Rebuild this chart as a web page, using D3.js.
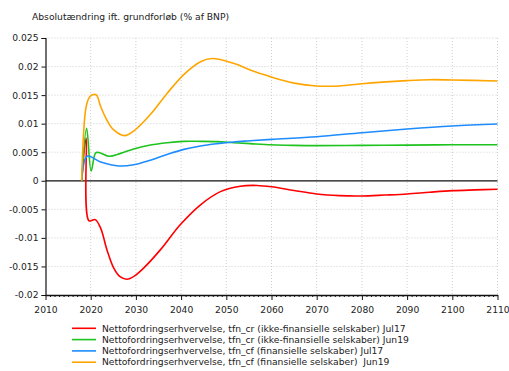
<!DOCTYPE html>
<html>
<head>
<meta charset="utf-8">
<script src="https://cdn.jsdelivr.net/npm/d3@7"></script>
<style>
  html, body { margin: 0; padding: 0; background: #fff; }
  svg { display: block; }
  text { font-family: "DejaVu Sans", Verdana, sans-serif; fill: #222; }
</style>
</head>
<body>
<svg id="chart" width="509" height="371"></svg>
<script>
// Net lending (tfn) change relative to baseline, % of GDP
const titleText = "Absolutændring ift. grundforløb (% af BNP)";

const xTicks = [2010, 2020, 2030, 2040, 2050, 2060, 2070, 2080, 2090, 2100, 2110];
const yTicks = [-0.02, -0.015, -0.01, -0.005, 0, 0.005, 0.01, 0.015, 0.02, 0.025];
const yTickLabels = ["-0.02", "-0.015", "-0.01", "-0.005", "0", "0.005", "0.01", "0.015", "0.02", "0.025"];

// [year, value]
const crJul17 = [
  [2018, 0], [2019, 0.0075], [2019.6, -0.0070], [2021, -0.0068], [2022.2, -0.0083],
  [2023.6, -0.0121], [2025.1, -0.0153], [2026.5, -0.0168], [2028, -0.01725],
  [2029.8, -0.0166], [2031.7, -0.0153], [2035.4, -0.0121], [2039.8, -0.0077],
  [2044.3, -0.0042], [2048.7, -0.0019], [2053.1, -0.00095], [2056.8, -0.00082],
  [2060, -0.00105], [2065, -0.0017], [2070, -0.00231], [2075, -0.0026],
  [2080, -0.00266], [2085, -0.0025], [2090, -0.00231], [2095, -0.002],
  [2100, -0.00173], [2105, -0.0016], [2110, -0.00149]
];

const crJun19 = [
  [2018, 0], [2019.1, 0.0092], [2020.1, 0.0017], [2021.1, 0.0049], [2022, 0.0049],
  [2024, 0.0043], [2026.6, 0.0048], [2029.5, 0.00557], [2033.2, 0.00627],
  [2036.9, 0.00667], [2040.6, 0.0069], [2044.3, 0.0069], [2048, 0.00685],
  [2051.6, 0.00667], [2055.3, 0.0065], [2060, 0.0063], [2065, 0.0062],
  [2070, 0.00615], [2080, 0.0062], [2090, 0.00625], [2100, 0.0063], [2110, 0.0063]
];

const cfJul17 = [
  [2018, 0], [2019.2, 0.0043], [2022.2, 0.0033], [2026.2, 0.0026], [2029.5, 0.0028],
  [2033.2, 0.0036], [2036.9, 0.0046], [2040.6, 0.0055], [2044.3, 0.0061],
  [2048, 0.0065], [2051.6, 0.0068], [2055.3, 0.0070], [2060, 0.00725],
  [2070, 0.00772], [2080, 0.00842], [2090, 0.00907], [2100, 0.0096], [2110, 0.00994]
];

const cfJun19 = [
  [2018, 0], [2019, 0.0130], [2019.8, 0.0147], [2020.6, 0.0151], [2021.3, 0.0150],
  [2022.2, 0.0130], [2023.6, 0.0106], [2025.1, 0.0089], [2027.5, 0.0079],
  [2029.5, 0.0087], [2033.2, 0.0116], [2036.9, 0.0153],
  [2040.6, 0.0186], [2044.3, 0.02085], [2046.8, 0.0214], [2051.6, 0.02057],
  [2055.3, 0.0194], [2057.5, 0.0188], [2060, 0.01815], [2065, 0.0171], [2070, 0.0166],
  [2075, 0.0166], [2080, 0.0170], [2090, 0.01753], [2095, 0.0177], [2100, 0.01765],
  [2110, 0.01747]
];

const seriesNames = [
  "Nettofordringserhvervelse, tfn_cr (ikke-finansielle selskaber) Jul17",
  "Nettofordringserhvervelse, tfn_cr (ikke-finansielle selskaber) Jun19",
  "Nettofordringserhvervelse, tfn_cf (finansielle selskaber) Jul17",
  "Nettofordringserhvervelse, tfn_cf (finansielle selskaber)  Jun19"
];
const seriesData = [crJul17, crJun19, cfJul17, cfJun19];
const seriesColors = ["#ff0000", "#1ec31e", "#1e8cff", "#ffa500"];

const svg = d3.select("#chart");
const fontSize = 9.2;

const x = d3.scaleLinear().domain([2010, 2110]).range([45.5, 497.5]);
const y = d3.scaleLinear().domain([-0.02, 0.025]).range([295, 38]);

// title
svg.append("text")
  .attr("x", 32).attr("y", 20)
  .style("font-size", fontSize + "px")
  .text(titleText);

// grid
const grid = svg.append("g");
grid.selectAll("line.h").data(yTicks.filter(d => d !== -0.02 && d !== 0)).join("line")
  .attr("x1", x(2010)).attr("x2", x(2110))
  .attr("y1", d => y(d)).attr("y2", d => y(d))
  .attr("stroke", "#cfcfcf").attr("stroke-width", 1)
  .attr("stroke-dasharray", "1,2");
grid.selectAll("line.v").data(xTicks.filter(d => d !== 2010)).join("line")
  .attr("x1", d => x(d)).attr("x2", d => x(d))
  .attr("y1", y(0.025)).attr("y2", y(-0.02))
  .attr("stroke", "#cfcfcf").attr("stroke-width", 1)
  .attr("stroke-dasharray", "1,2");

// zero line
svg.append("line")
  .attr("x1", x(2010)).attr("x2", x(2110))
  .attr("y1", y(0)).attr("y2", y(0))
  .attr("stroke", "#111").attr("stroke-width", 1.2);

// series
const line = d3.line()
  .x(d => x(d[0]))
  .y(d => y(d[1]))
  .curve(d3.curveCatmullRom.alpha(0.5));

svg.append("g").selectAll("path").data(seriesData).join("path")
  .attr("d", d => line(d))
  .attr("fill", "none")
  .attr("stroke", (d, i) => seriesColors[i])
  .attr("stroke-width", 1.6)
  .attr("stroke-linejoin", "round");

// y axis
const yAxis = d3.axisLeft(y)
  .tickValues(yTicks)
  .tickFormat((d, i) => yTickLabels[i])
  .tickSize(4)
  .tickPadding(3);
const gy = svg.append("g")
  .attr("transform", `translate(${x(2010)},0)`)
  .call(yAxis);
gy.select(".domain").attr("stroke", "#111").attr("stroke-width", 1.2);
gy.selectAll(".tick line").attr("stroke", "#111");
gy.selectAll(".tick text")
  .style("font-size", fontSize + "px")
  .style("font-family", '"DejaVu Sans", Verdana, sans-serif')
  .attr("fill", "#222");

// x axis with yearly minor ticks
const minorYears = d3.range(2010, 2111).filter(d => d % 10 !== 0);
const xMinor = d3.axisBottom(x).tickValues(minorYears).tickSize(2).tickFormat("");
const gxm = svg.append("g")
  .attr("transform", `translate(0,${y(-0.02)})`)
  .call(xMinor);
gxm.select(".domain").remove();
gxm.selectAll(".tick line").attr("stroke", "#111");

const xAxis = d3.axisBottom(x)
  .tickValues(xTicks)
  .tickFormat(d3.format("d"))
  .tickSize(5)
  .tickSizeOuter(0)
  .tickPadding(6);
const gx = svg.append("g")
  .attr("transform", `translate(0,${y(-0.02)})`)
  .call(xAxis);
gx.select(".domain").attr("stroke", "#111").attr("stroke-width", 1.5);
gx.selectAll(".tick line").attr("stroke", "#111");
gx.selectAll(".tick text")
  .style("font-size", fontSize + "px")
  .style("font-family", '"DejaVu Sans", Verdana, sans-serif')
  .attr("fill", "#222");

// legend
const legend = svg.append("g").attr("transform", "translate(72,328.3)");
const items = legend.selectAll("g").data(seriesNames).join("g")
  .attr("transform", (d, i) => `translate(0,${i * 11.3})`);
items.append("line")
  .attr("x1", 0).attr("x2", 24).attr("y1", 0).attr("y2", 0)
  .attr("stroke", (d, i) => seriesColors[i]).attr("stroke-width", 1.6);
items.append("text")
  .attr("x", 30).attr("y", 0).attr("dy", "0.35em")
  .style("font-size", fontSize + "px")
  .style("white-space", "pre")
  .attr("xml:space", "preserve")
  .text(d => d);
</script>
</body>
</html>
